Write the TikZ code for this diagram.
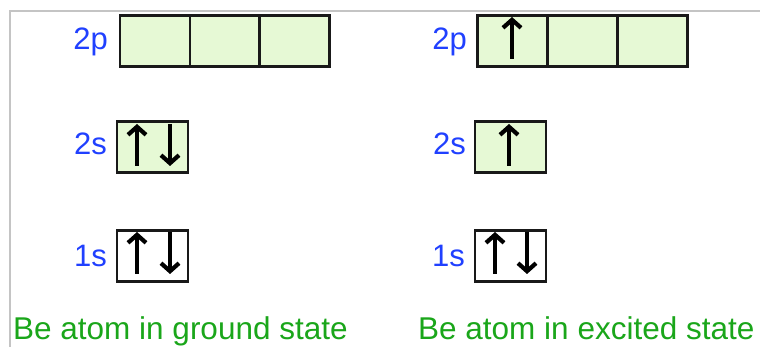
\documentclass[tikz,border=0pt]{standalone}
\usepackage{fontspec}
\setmainfont{Liberation Sans}
\usetikzlibrary{arrows.meta}
\definecolor{orbfill}{HTML}{E6F9D5}
\definecolor{lblblue}{HTML}{2040FF}
\definecolor{capgreen}{HTML}{1AA61A}
\definecolor{framegray}{HTML}{C4C4C4}
\begin{document}
\begin{tikzpicture}[x=1pt,y=-1pt,
  orb/.style={draw=black!90,line width=2.2pt,fill=orbfill,inner sep=0pt,minimum height=51pt,minimum width=70pt},
  orbw/.style={orb,fill=white},
  lbl/.style={text=lblblue,inner sep=0pt,anchor=base east,font=\fontsize{31}{36}\selectfont},
  captext/.style={text=capgreen,inner sep=0pt,anchor=base west,font=\fontsize{31.5}{36}\selectfont},
  spin/.style={line width=4.8pt,-{Straight Barb[length=8pt,width=18pt,line width=4.2pt]}}]
\useasboundingbox (0,0) rectangle (760,347);
\draw[framegray,line width=2pt] (10,347) -- (10,11) -- (760,11);
% ground state
\node[orb] (pL1) at (155,41) {};
\node[orb] (pL2) at (225,41) {};
\node[orb] (pL3) at (294.5,41) {};
\node[orb,minimum width=71pt] (sL2) at (152.5,147) {};
\node[orbw,minimum width=71pt] (sL1) at (152.5,256) {};
\node[lbl] (l2pL) at (108,50) {2p};
\node[lbl] (l2sL) at (107,155) {2s};
\node[lbl] (l1sL) at (107,267) {1s};
\draw[spin] (137,166) -- (137,124);
\draw[spin] (170,124) -- (170,166);
\draw[spin] (137,274) -- (137,232);
\draw[spin] (170,232) -- (170,274);
% excited state
\node[orb] (pR1) at (512.5,41) {};
\node[orb] (pR2) at (583,41) {};
\node[orb] (pR3) at (652.5,41) {};
\node[orb,minimum width=71pt] (sR2) at (510.5,147) {};
\node[orbw,minimum width=71pt] (sR1) at (510.5,256) {};
\node[lbl] (l2pR) at (467,50) {2p};
\node[lbl] (l2sR) at (466,155) {2s};
\node[lbl] (l1sR) at (465,267) {1s};
\draw[spin] (512,59) -- (512,17);
\draw[spin] (509,166) -- (509,124);
\draw[spin] (495,274) -- (495,232);
\draw[spin] (527,232) -- (527,274);
% captions
\node[captext] (cL) at (13,339) {Be atom in ground state};
\node[captext] (cR) at (418,339) {Be atom in excited state};
\end{tikzpicture}
\end{document}
